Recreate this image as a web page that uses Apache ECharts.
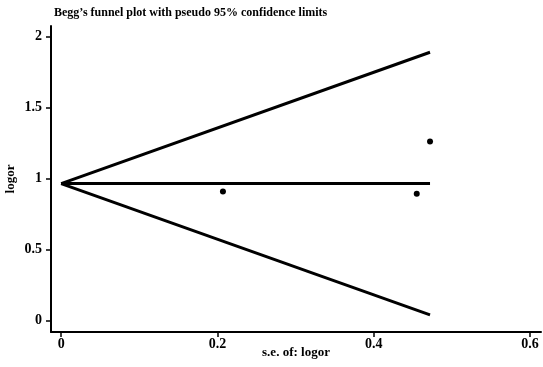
<!DOCTYPE html>
<html>
<head>
<meta charset="utf-8">
<script src="https://cdn.jsdelivr.net/npm/echarts@6/dist/echarts.min.js"></script>
<style>
  html, body { margin: 0; padding: 0; background: #fff; }
  #chart { width: 543px; height: 367px; }
</style>
</head>
<body>
<div id="chart"></div>
<script>
// study points: standard error and log odds ratio
var seValues = [0.207, 0.455, 0.472];
var logorValues = [0.910, 0.894, 1.261];

// pseudo 95% limits (pooled estimate and max s.e.)
var pooled = 0.965;
var seMax = 0.472;
var upperEnd = 1.890;
var lowerEnd = 0.040;

var xTicks = [0, 0.2, 0.4, 0.6];
var yTicks = [0, 0.5, 1, 1.5, 2];

var serif = 'Liberation Serif';
var myChart = echarts.init(document.getElementById('chart'));

var lineStyle = { color: '#000', width: 3 };

var points = [];
for (var i = 0; i < seValues.length; i++) {
  points.push([seValues[i], logorValues[i]]);
}

var option = {
  backgroundColor: '#fff',
  animation: false,
  title: {
    text: 'Begg\u2019s funnel plot with pseudo 95% confidence limits',
    left: 49,
    top: 2,
    textStyle: { fontFamily: serif, fontWeight: 'bold', fontSize: 12, color: '#000' }
  },
  grid: { left: 51, right: 2, top: 26, bottom: 35, containLabel: false, outerBoundsMode: 'none' },
  xAxis: {
    type: 'value',
    min: -0.013,
    max: 0.614,
    name: 's.e. of: logor',
    nameLocation: 'middle',
    nameGap: 14,
    nameMoveOverlap: false,
    nameTextStyle: { fontFamily: serif, fontWeight: 'bold', fontSize: 13, color: '#000' },
    axisLine: { onZero: false, lineStyle: { color: '#000', width: 2 } },
    axisTick: { show: true, length: 5, customValues: xTicks, lineStyle: { color: '#000', width: 1.5 } },
    axisLabel: {
      customValues: xTicks,
      margin: 5,
      fontFamily: serif, fontWeight: 'bold', fontSize: 14, color: '#000',
      formatter: function (v) { return String(v); }
    },
    splitLine: { show: false }
  },
  yAxis: {
    type: 'value',
    min: -0.08,
    max: 2.075,
    name: 'logor',
    nameLocation: 'middle',
    nameGap: 34,
    nameMoveOverlap: false,
    nameTextStyle: { fontFamily: serif, fontWeight: 'bold', fontSize: 13, color: '#000' },
    axisLine: { onZero: false, lineStyle: { color: '#000', width: 2 } },
    axisTick: { show: true, length: 5, customValues: yTicks, lineStyle: { color: '#000', width: 1.5 } },
    axisLabel: {
      customValues: yTicks,
      margin: 9,
      fontFamily: serif, fontWeight: 'bold', fontSize: 14, color: '#000',
      formatter: function (v) { return String(v); }
    },
    splitLine: { show: false }
  },
  series: [
    {
      type: 'line',
      data: [[0, pooled], [seMax, upperEnd]],
      symbol: 'none',
      lineStyle: lineStyle
    },
    {
      type: 'line',
      data: [[0, pooled], [seMax, pooled]],
      symbol: 'none',
      lineStyle: lineStyle
    },
    {
      type: 'line',
      data: [[0, pooled], [seMax, lowerEnd]],
      symbol: 'none',
      lineStyle: lineStyle
    },
    {
      type: 'scatter',
      data: points,
      symbol: 'circle',
      symbolSize: 6,
      itemStyle: { color: '#000', opacity: 1 }
    }
  ]
};

myChart.setOption(option);
</script>
</body>
</html>
